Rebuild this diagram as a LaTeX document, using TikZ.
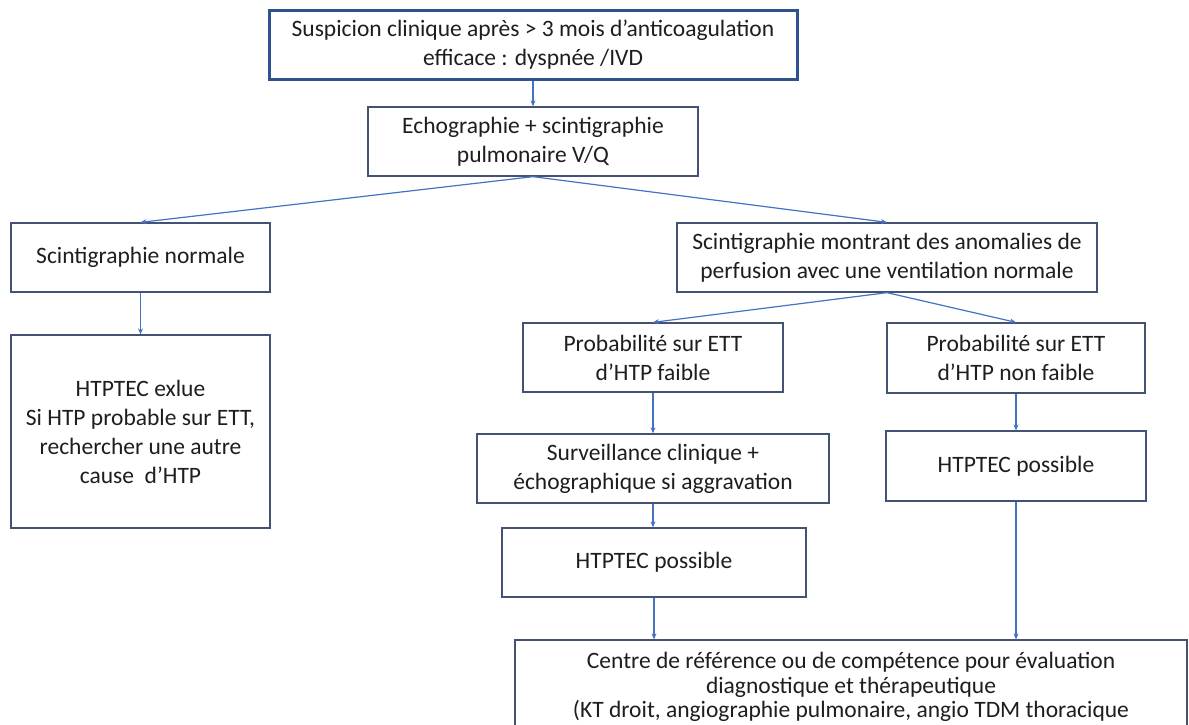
\documentclass[tikz,border=0pt]{standalone}
\usepackage{fontspec}
\setmainfont{Carlito}
\usetikzlibrary{arrows.meta}
\definecolor{boxline}{RGB}{68,82,115}
\definecolor{topline}{RGB}{47,82,143}
\definecolor{arrowblue}{RGB}{68,114,196}
\definecolor{txt}{RGB}{30,30,30}
\tikzset{
  flowbox/.style={draw=boxline, line width=1.3pt, fill=white, inner sep=0pt,
    align=center, text=txt, font=\fontsize{23.5}{29}\selectfont},
  topbox/.style={flowbox, draw=topline, line width=3pt},
  arr/.style={draw=arrowblue, line width=1.2pt, -{Stealth[length=6pt,width=5pt]}}
}
\begin{document}
\begin{tikzpicture}[x=1pt,y=-1pt]
\useasboundingbox[fill=white] (0,0) rectangle (1189,724);
\node[topbox, minimum width=528pt, minimum height=69pt] (top) at (533,44.5)
  {Suspicion clinique après > 3 mois d’anticoagulation\\efficace : dyspnée /IVD};
\node[flowbox, minimum width=330pt, minimum height=69pt] (echo) at (533,141.5)
  {Echographie + scintigraphie\\pulmonaire V/Q};
\node[flowbox, minimum width=259pt, minimum height=69pt] (normale) at (140.5,257.5)
  {Scintigraphie normale};
\node[flowbox, minimum width=259pt, minimum height=193pt] (exlue) at (140.5,431.5)
  {HTPTEC exlue\\Si HTP probable sur ETT,\\rechercher une autre\\cause\ \ d’HTP};
\node[flowbox, minimum width=420pt, minimum height=69pt] (montrant) at (887,257.5)
  {Scintigraphie montrant des anomalies de\\perfusion avec une ventilation normale};
\node[flowbox, minimum width=260pt, minimum height=69pt] (faible) at (653,357.5)
  {Probabilité sur ETT\\d’HTP faible};
\node[flowbox, minimum width=258pt, minimum height=70pt] (nonfaible) at (1016,358)
  {Probabilité sur ETT\\d’HTP non faible};
\node[flowbox, minimum width=352pt, minimum height=69pt] (surv) at (653,468.5)
  {Surveillance clinique +\\échographique si aggravation};
\node[flowbox, minimum width=304pt, minimum height=69pt] (poss1) at (654,562.5)
  {HTPTEC possible};
\node[flowbox, minimum width=260pt, minimum height=70pt] (poss2) at (1016,466)
  {HTPTEC possible};
\node[flowbox, minimum width=672pt, minimum height=94pt, font=\fontsize{23.5}{24.5}\selectfont] (centre) at (851,687)
  {Centre de référence ou de compétence pour évaluation\\diagnostique et thérapeutique\\(KT droit, angiographie pulmonaire, angio TDM thoracique};
\draw[arr] (top.south) -- (echo.north);
\draw[arr] (echo.south) -- (normale.north);
\draw[arr] (echo.south) -- (montrant.north);
\draw[arr] (normale.south) -- (exlue.north);
\draw[arr] (montrant.south) -- (faible.north);
\draw[arr] (montrant.south) -- (nonfaible.north);
\draw[arr] (faible.south) -- (surv.north);
\draw[arr] (surv.south) -- (surv.south |- poss1.north);
\draw[arr] (nonfaible.south) -- (poss2.north);
\draw[arr] (poss1.south) -- (poss1.south |- centre.north);
\draw[arr] (poss2.south) -- (poss2.south |- centre.north);
\end{tikzpicture}
\end{document}
